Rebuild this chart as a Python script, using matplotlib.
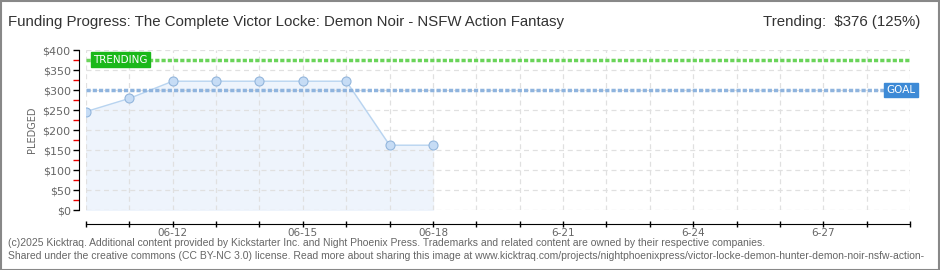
import numpy as np
import pandas as pd
import matplotlib
matplotlib.use("Agg")
import matplotlib.pyplot as plt
import matplotlib.dates as mdates
from matplotlib.patches import Rectangle

TITLE = "Funding Progress: The Complete Victor Locke: Demon Noir - NSFW Action Fantasy"
TREND_TEXT = "Trending:  $376 (125%)"
FOOTER = ["(c)2025 Kicktraq. Additional content provided by Kickstarter Inc. and Night Phoenix Press. Trademarks and related content are owned by their respective companies.",
          "Shared under the creative commons (CC BY-NC 3.0) license. Read more about sharing this image at www.kicktraq.com/projects/nightphoenixpress/victor-locke-demon-hunter-demon-noir-nsfw-action-"]

dates = pd.date_range("2025-06-10", "2025-06-18", freq="D")
pledged = [246, 279, 322, 322, 322, 322, 322, 162, 162]
goal = 300
trending = 376
x_start = pd.Timestamp("2025-06-10")
x_end = pd.Timestamp("2025-06-29")
tick_days = ["2025-06-12", "2025-06-15", "2025-06-18", "2025-06-21", "2025-06-24", "2025-06-27"]
tick_labels = ["06-12", "06-15", "06-18", "6-21", "6-24", "6-27"]
y_ticks = [0, 50, 100, 150, 200, 250, 300, 350, 400]

TXT = "Liberation Sans"

W, H = 940, 270
fig = plt.figure(figsize=(W / 100, H / 100), dpi=100)
fig.patch.set_facecolor("white")
# outer border
fig.add_artist(Rectangle((0.5 / W, 0.5 / H), 1 - 1.5 / W, 1 - 1.5 / H, transform=fig.transFigure,
                         fill=False, edgecolor="#888888", lw=1.5))

ax = fig.add_axes([86 / W, (H - 210) / H, (910 - 86) / W, 160 / H])
ax.set_xlim(x_start, x_end)
ax.set_ylim(0, 400)

ax.fill_between(dates, pledged, 0, color="#eef4fc", zorder=1)

# grid (drawn over the fill, like the original)
for d in pd.date_range(x_start, x_end, freq="D"):
    ax.axvline(d, color="#e0e0e0", lw=0.9, ls=(0, (4, 3)), zorder=1.5)
for v in y_ticks:
    ax.axhline(v, color="#e0e0e0", lw=0.9, ls=(0, (4, 3)), zorder=1.5)

ax.plot(dates, pledged, color="#b8d4f0", lw=1, zorder=2)
ax.plot(dates, pledged, ls="none", marker="o", ms=6.5, mfc="#c6dcf5", mec="#93b6dc", mew=0.8, zorder=3)

ax.axhline(trending, color="#6ad45a", lw=2.5, ls=(0, (1.2, 0.6)), zorder=2)
ax.axhline(goal, color="#8fb4de", lw=2.5, ls=(0, (1.2, 0.6)), zorder=2)

ax.text(pd.Timestamp("2025-06-10 04:00"), trending, "TRENDING", fontsize=7.5, color="white",
        va="center", ha="left", family="DejaVu Sans",
        bbox=dict(boxstyle="square,pad=0.22", fc="#1ab81a", ec="#1ab81a"), zorder=5)
ax.text(pd.Timestamp("2025-06-28 11:00"), goal, "GOAL", fontsize=7.5, color="white",
        va="center", ha="left", family="DejaVu Sans",
        bbox=dict(boxstyle="square,pad=0.22", fc="#3d8ad6", ec="#3d8ad6"), zorder=5)

for s in ["top", "right"]:
    ax.spines[s].set_visible(False)
ax.spines["left"].set_position(("outward", 5))
ax.spines["bottom"].set_position(("outward", 10))
ax.spines["left"].set_bounds(0, 400)

ax.set_yticks(y_ticks)
ax.set_yticklabels(["$" + str(v) for v in y_ticks], color="#666666", fontsize=8)
ax.set_yticks([25, 75, 125, 175, 225, 275, 325, 375], minor=True)
ax.tick_params(axis="y", which="major", length=4, width=1, color="black", pad=2)
ax.tick_params(axis="y", which="minor", length=4, width=1, color="#ee0000")

ax.xaxis.set_major_locator(mdates.DayLocator())
ax.xaxis.set_major_formatter(plt.NullFormatter())
ax.tick_params(axis="x", which="major", length=4, width=1, color="black", direction="inout")
for d, lab in zip(tick_days, tick_labels):
    ax.text(pd.Timestamp(d), -0.115, lab, transform=ax.get_xaxis_transform(), ha="center", va="top",
            fontsize=7.5, color="#666666")

ax.set_ylabel("PLEDGED", fontsize=7, color="#666666", labelpad=4)

fig.text(8 / W, 1 - 22 / H, TITLE, fontsize=10.8, color="#333333", va="center", ha="left", family=TXT)
fig.text(1 - 20 / W, 1 - 22 / H, TREND_TEXT, fontsize=10.8, color="#333333", va="center", ha="right", family=TXT)
fig.text(8 / W, 1 - 243 / H, FOOTER[0], fontsize=7.5, color="#666666", va="center", ha="left", family=TXT)
fig.text(8 / W, 1 - 256 / H, FOOTER[1], fontsize=7.5, color="#666666", va="center", ha="left", family=TXT)

fig.savefig("out.png", dpi=100)
